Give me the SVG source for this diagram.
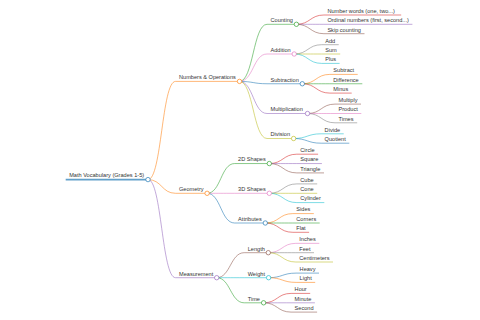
<svg xmlns="http://www.w3.org/2000/svg" width="480" height="320" viewBox="0 0 480 320">
<style>
.t{font-family:"Liberation Sans",Arial,sans-serif;font-size:5.6px;fill:#333}
path,line{fill:none;stroke-width:0.8;stroke-opacity:0.7}
circle{fill:#fff;stroke-width:0.8;stroke-opacity:0.85}
.root line{stroke-width:1.6}
.b{stroke:#1f77b4}.o{stroke:#ff7f0e}.g{stroke:#2ca02c}.r{stroke:#d62728}.p{stroke:#9467bd}
.n{stroke:#8c564b}.k{stroke:#e377c2}.y{stroke:#7f7f7f}.v{stroke:#bcbd22}.c{stroke:#17becf}
</style>
<rect width="480" height="320" fill="#fff"/>
<g id="connectors">
<path class="o" d="M148,179.6C161.75,179.6 161.75,81.4 175.5,81.4"/>
<path class="o" d="M148,179.6C161.75,179.6 161.75,193.3 175.5,193.3"/>
<path class="p" d="M148,179.6C161.75,179.6 161.75,277.7 175.5,277.7"/>
<path class="g" d="M239.5,81.4C253.25,81.4 253.25,24.3 267,24.3"/>
<path class="k" d="M239.5,81.4C253.25,81.4 253.25,54 267,54"/>
<path class="b" d="M239.5,81.4C253.25,81.4 253.25,83.75 267,83.75"/>
<path class="p" d="M239.5,81.4C253.25,81.4 253.25,113.5 267,113.5"/>
<path class="v" d="M239.5,81.4C253.25,81.4 253.25,138.5 267,138.5"/>
<path class="r" d="M296.4,24.3C310.15,24.3 310.15,15 323.9,15"/>
<path class="p" d="M296.4,24.3C310.15,24.3 310.15,24.3 323.9,24.3"/>
<path class="n" d="M296.4,24.3C310.15,24.3 310.15,33.7 323.9,33.7"/>
<path class="y" d="M294.2,54C307.95,54 307.95,44.7 321.7,44.7"/>
<path class="v" d="M294.2,54C307.95,54 307.95,54 321.7,54"/>
<path class="c" d="M294.2,54C307.95,54 307.95,63.4 321.7,63.4"/>
<path class="o" d="M302.3,83.75C316.05,83.75 316.05,74.4 329.8,74.4"/>
<path class="g" d="M302.3,83.75C316.05,83.75 316.05,83.75 329.8,83.75"/>
<path class="r" d="M302.3,83.75C316.05,83.75 316.05,93.1 329.8,93.1"/>
<path class="n" d="M307.5,113.5C321.25,113.5 321.25,104.1 335,104.1"/>
<path class="k" d="M307.5,113.5C321.25,113.5 321.25,113.5 335,113.5"/>
<path class="y" d="M307.5,113.5C321.25,113.5 321.25,122.8 335,122.8"/>
<path class="c" d="M293.6,138.5C307.35,138.5 307.35,133.8 321.1,133.8"/>
<path class="b" d="M293.6,138.5C307.35,138.5 307.35,143.2 321.1,143.2"/>
<path class="g" d="M207.1,193.3C220.85,193.3 220.85,163.55 234.6,163.55"/>
<path class="k" d="M207.1,193.3C220.85,193.3 220.85,193.3 234.6,193.3"/>
<path class="b" d="M207.1,193.3C220.85,193.3 220.85,223 234.6,223"/>
<path class="r" d="M269.3,163.55C283.05,163.55 283.05,154.2 296.8,154.2"/>
<path class="p" d="M269.3,163.55C283.05,163.55 283.05,163.55 296.8,163.55"/>
<path class="n" d="M269.3,163.55C283.05,163.55 283.05,172.9 296.8,172.9"/>
<path class="y" d="M269.3,193.3C283.05,193.3 283.05,183.9 296.8,183.9"/>
<path class="v" d="M269.3,193.3C283.05,193.3 283.05,193.3 296.8,193.3"/>
<path class="c" d="M269.3,193.3C283.05,193.3 283.05,202.6 296.8,202.6"/>
<path class="o" d="M265.3,223C279.05,223 279.05,213.6 292.8,213.6"/>
<path class="g" d="M265.3,223C279.05,223 279.05,223 292.8,223"/>
<path class="r" d="M265.3,223C279.05,223 279.05,232.3 292.8,232.3"/>
<path class="n" d="M216.7,277.7C230.45,277.7 230.45,252.7 244.2,252.7"/>
<path class="c" d="M216.7,277.7C230.45,277.7 230.45,277.7 244.2,277.7"/>
<path class="g" d="M216.7,277.7C230.45,277.7 230.45,302.8 244.2,302.8"/>
<path class="k" d="M268.3,252.7C282.05,252.7 282.05,243.35 295.8,243.35"/>
<path class="y" d="M268.3,252.7C282.05,252.7 282.05,252.7 295.8,252.7"/>
<path class="v" d="M268.3,252.7C282.05,252.7 282.05,262 295.8,262"/>
<path class="b" d="M268.6,277.7C282.35,277.7 282.35,273.1 296.1,273.1"/>
<path class="o" d="M268.6,277.7C282.35,277.7 282.35,282.4 296.1,282.4"/>
<path class="r" d="M263.6,302.8C277.35,302.8 277.35,293.4 291.1,293.4"/>
<path class="p" d="M263.6,302.8C277.35,302.8 277.35,302.8 291.1,302.8"/>
<path class="n" d="M263.6,302.8C277.35,302.8 277.35,312.1 291.1,312.1"/>
</g>
<g id="root" class="root"><line class="b" x1="65.7" y1="179.6" x2="148" y2="179.6"/><text class="t" x="69.2" y="177.4">Math Vocabulary (Grades 1-5)</text><circle class="b" cx="148" cy="179.6" r="2.2"/></g>
<g id="numbers-operations"><line class="o" x1="175.5" y1="81.4" x2="239.5" y2="81.4"/><text class="t" x="179" y="79.2">Numbers &amp; Operations</text><circle class="o" cx="239.5" cy="81.4" r="2.2"/></g>
<g id="geometry"><line class="o" x1="175.5" y1="193.3" x2="207.1" y2="193.3"/><text class="t" x="179" y="191.1">Geometry</text><circle class="o" cx="207.1" cy="193.3" r="2.2"/></g>
<g id="measurement"><line class="p" x1="175.5" y1="277.7" x2="216.7" y2="277.7"/><text class="t" x="179" y="275.5">Measurement</text><circle class="p" cx="216.7" cy="277.7" r="2.2"/></g>
<g id="counting"><line class="g" x1="267" y1="24.3" x2="296.4" y2="24.3"/><text class="t" x="270.5" y="22.1">Counting</text><circle class="g" cx="296.4" cy="24.3" r="2.2"/></g>
<g id="addition"><line class="k" x1="267" y1="54" x2="294.2" y2="54"/><text class="t" x="270.5" y="51.8">Addition</text><circle class="k" cx="294.2" cy="54" r="2.2"/></g>
<g id="subtraction"><line class="b" x1="267" y1="83.75" x2="302.3" y2="83.75"/><text class="t" x="270.5" y="81.55">Subtraction</text><circle class="b" cx="302.3" cy="83.75" r="2.2"/></g>
<g id="multiplication"><line class="p" x1="267" y1="113.5" x2="307.5" y2="113.5"/><text class="t" x="270.5" y="111.3">Multiplication</text><circle class="p" cx="307.5" cy="113.5" r="2.2"/></g>
<g id="division"><line class="v" x1="267" y1="138.5" x2="293.6" y2="138.5"/><text class="t" x="270.5" y="136.3">Division</text><circle class="v" cx="293.6" cy="138.5" r="2.2"/></g>
<g id="number-words"><line class="r" x1="323.9" y1="15" x2="401.2" y2="15"/><text class="t" x="327.4" y="12.8">Number words (one, two...)</text></g>
<g id="ordinal-numbers"><line class="p" x1="323.9" y1="24.3" x2="412.4" y2="24.3"/><text class="t" x="327.4" y="22.1">Ordinal numbers (first, second...)</text></g>
<g id="skip-counting"><line class="n" x1="323.9" y1="33.7" x2="364.5" y2="33.7"/><text class="t" x="327.4" y="31.5">Skip counting</text></g>
<g id="add"><line class="y" x1="321.7" y1="44.7" x2="338.7" y2="44.7"/><text class="t" x="325.2" y="42.5">Add</text></g>
<g id="sum"><line class="v" x1="321.7" y1="54" x2="340.2" y2="54"/><text class="t" x="325.2" y="51.8">Sum</text></g>
<g id="plus"><line class="c" x1="321.7" y1="63.4" x2="339.6" y2="63.4"/><text class="t" x="325.2" y="61.2">Plus</text></g>
<g id="subtract"><line class="o" x1="329.8" y1="74.4" x2="357.7" y2="74.4"/><text class="t" x="333.3" y="72.2">Subtract</text></g>
<g id="difference"><line class="g" x1="329.8" y1="83.75" x2="362.3" y2="83.75"/><text class="t" x="333.3" y="81.55">Difference</text></g>
<g id="minus"><line class="r" x1="329.8" y1="93.1" x2="351.7" y2="93.1"/><text class="t" x="333.3" y="90.9">Minus</text></g>
<g id="multiply"><line class="n" x1="335" y1="104.1" x2="361" y2="104.1"/><text class="t" x="338.5" y="101.9">Multiply</text></g>
<g id="product"><line class="k" x1="335" y1="113.5" x2="361.3" y2="113.5"/><text class="t" x="338.5" y="111.3">Product</text></g>
<g id="times"><line class="y" x1="335" y1="122.8" x2="357.2" y2="122.8"/><text class="t" x="338.5" y="120.6">Times</text></g>
<g id="divide"><line class="c" x1="321.1" y1="133.8" x2="343.7" y2="133.8"/><text class="t" x="324.6" y="131.6">Divide</text></g>
<g id="quotient"><line class="b" x1="321.1" y1="143.2" x2="349.3" y2="143.2"/><text class="t" x="324.6" y="141">Quotient</text></g>
<g id="shapes-2d"><line class="g" x1="234.6" y1="163.55" x2="269.3" y2="163.55"/><text class="t" x="238.1" y="161.35">2D Shapes</text><circle class="g" cx="269.3" cy="163.55" r="2.2"/></g>
<g id="shapes-3d"><line class="k" x1="234.6" y1="193.3" x2="269.3" y2="193.3"/><text class="t" x="238.1" y="191.1">3D Shapes</text><circle class="k" cx="269.3" cy="193.3" r="2.2"/></g>
<g id="attributes"><line class="b" x1="234.6" y1="223" x2="265.3" y2="223"/><text class="t" x="238.1" y="220.8">Attributes</text><circle class="b" cx="265.3" cy="223" r="2.2"/></g>
<g id="circle"><line class="r" x1="296.8" y1="154.2" x2="318.1" y2="154.2"/><text class="t" x="300.3" y="152">Circle</text></g>
<g id="square"><line class="p" x1="296.8" y1="163.55" x2="321.9" y2="163.55"/><text class="t" x="300.3" y="161.35">Square</text></g>
<g id="triangle"><line class="n" x1="296.8" y1="172.9" x2="324" y2="172.9"/><text class="t" x="300.3" y="170.7">Triangle</text></g>
<g id="cube"><line class="y" x1="296.8" y1="183.9" x2="317.2" y2="183.9"/><text class="t" x="300.3" y="181.7">Cube</text></g>
<g id="cone"><line class="v" x1="296.8" y1="193.3" x2="317.2" y2="193.3"/><text class="t" x="300.3" y="191.1">Cone</text></g>
<g id="cylinder"><line class="c" x1="296.8" y1="202.6" x2="324.3" y2="202.6"/><text class="t" x="300.3" y="200.4">Cylinder</text></g>
<g id="sides"><line class="o" x1="292.8" y1="213.6" x2="313.8" y2="213.6"/><text class="t" x="296.3" y="211.4">Sides</text></g>
<g id="corners"><line class="g" x1="292.8" y1="223" x2="319.7" y2="223"/><text class="t" x="296.3" y="220.8">Corners</text></g>
<g id="flat"><line class="r" x1="292.8" y1="232.3" x2="309.1" y2="232.3"/><text class="t" x="296.3" y="230.1">Flat</text></g>
<g id="length"><line class="n" x1="244.2" y1="252.7" x2="268.3" y2="252.7"/><text class="t" x="247.7" y="250.5">Length</text><circle class="n" cx="268.3" cy="252.7" r="2.2"/></g>
<g id="weight"><line class="c" x1="244.2" y1="277.7" x2="268.6" y2="277.7"/><text class="t" x="247.7" y="275.5">Weight</text><circle class="c" cx="268.6" cy="277.7" r="2.2"/></g>
<g id="time"><line class="g" x1="244.2" y1="302.8" x2="263.6" y2="302.8"/><text class="t" x="247.7" y="300.6">Time</text><circle class="g" cx="263.6" cy="302.8" r="2.2"/></g>
<g id="inches"><line class="k" x1="295.8" y1="243.35" x2="319.3" y2="243.35"/><text class="t" x="299.3" y="241.15">Inches</text></g>
<g id="feet"><line class="y" x1="295.8" y1="252.7" x2="314" y2="252.7"/><text class="t" x="299.3" y="250.5">Feet</text></g>
<g id="centimeters"><line class="v" x1="295.8" y1="262" x2="333" y2="262"/><text class="t" x="299.3" y="259.8">Centimeters</text></g>
<g id="heavy"><line class="b" x1="296.1" y1="273.1" x2="319" y2="273.1"/><text class="t" x="299.6" y="270.9">Heavy</text></g>
<g id="light"><line class="o" x1="296.1" y1="282.4" x2="315.2" y2="282.4"/><text class="t" x="299.6" y="280.2">Light</text></g>
<g id="hour"><line class="r" x1="291.1" y1="293.4" x2="310.2" y2="293.4"/><text class="t" x="294.6" y="291.2">Hour</text></g>
<g id="minute"><line class="p" x1="291.1" y1="302.8" x2="314.9" y2="302.8"/><text class="t" x="294.6" y="300.6">Minute</text></g>
<g id="second"><line class="n" x1="291.1" y1="312.1" x2="317.1" y2="312.1"/><text class="t" x="294.6" y="309.9">Second</text></g>
</svg>
